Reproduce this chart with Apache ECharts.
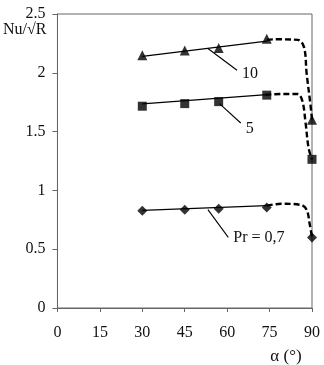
<!DOCTYPE html>
<html>
<head>
<meta charset="utf-8">
<script src="https://cdn.jsdelivr.net/npm/echarts@6/dist/echarts.min.js"></script>
<style>
  html, body { margin: 0; padding: 0; background: #fff; }
  #chart { width: 324px; height: 365px; }
</style>
</head>
<body>
<div id="chart"></div>
<script>
// Nu/sqrt(R) against inclination angle alpha, three Prandtl numbers.
const alphaTicks = [0, 15, 30, 45, 60, 75, 90];

// measured points
const alphaMeas = [30, 45, 57, 74, 90];
const nuPr10 = [2.15, 2.19, 2.21, 2.29, 1.60];
const nuPr5 = [1.716, 1.738, 1.755, 1.81, 1.264];
const nuPr07 = [0.828, 0.836, 0.844, 0.855, 0.60];

// straight fit lines (30..74 deg)
const fitAlpha = [30, 74];
const fit10 = [2.14, 2.27];
const fit5 = [1.735, 1.815];
const fit07 = [0.83, 0.87];

// dashed drop-off curves near 90 deg
const dashAlpha10 = [74, 77, 85, 87.2, 88.1, 89.5, 90];
const dash10 = [2.28, 2.285, 2.28, 2.216, 1.995, 1.72, 1.60];
const dashAlpha5 = [73.5, 79, 84.9, 86.6, 87.7, 88.8, 90];
const dash5 = [1.813, 1.82, 1.82, 1.76, 1.58, 1.36, 1.264];
const dashAlpha07 = [74, 79.1, 86, 88.1, 89.2, 90];
const dash07 = [0.87, 0.886, 0.877, 0.836, 0.712, 0.60];

// leader lines for the curve labels
const leaderNames = ["10", "5", "Pr = 0,7"];
const leaderAlpha = [[53.2, 63.5], [57.3, 64.8], [53.2, 60.4]];
const leaderNu = [[2.207, 2.022], [1.738, 1.573], [0.836, 0.60]];

const FONT = "'Liberation Serif', 'Times New Roman', serif";
const zip = (xs, ys) => xs.map((x, i) => [x, ys[i]]);

const markerSeries = (data, symbol, size) => ({
  type: "scatter",
  data: zip(alphaMeas, data),
  symbol,
  symbolSize: size,
  itemStyle: { color: "#000" },
  z: 5,
});
const fitSeries = (data) => ({
  type: "line",
  data: zip(fitAlpha, data),
  showSymbol: false,
  lineStyle: { color: "#000", width: 1.2 },
});
const dashSeries = (xs, ys) => ({
  type: "line",
  data: zip(xs, ys),
  smooth: 0.35,
  showSymbol: false,
  lineStyle: { color: "#000", width: 2.4, type: [6, 3] },
});
const labelOffsets = [[0, 4], [0, 6], [0, 0]];
const leaderSeries = leaderNames.map((name, i) => ({
  type: "line",
  data: [
    { value: [leaderAlpha[i][0], leaderNu[i][0]] },
    {
      value: [leaderAlpha[i][1], leaderNu[i][1]],
      label: {
        show: true,
        formatter: name,
        position: "right",
        distance: 5,
        offset: labelOffsets[i],
        color: "#111",
        fontFamily: FONT,
        fontSize: 16,
      },
    },
  ],
  symbol: "circle",
  symbolSize: 0.1,
  showSymbol: true,
  itemStyle: { color: "#000" },
  lineStyle: { color: "#000", width: 1.1 },
}));

const chart = echarts.init(document.getElementById("chart"), null, { renderer: "canvas" });
chart.setOption({
  animation: false,
  grid: {
    left: 50, right: 12, top: 14, bottom: 49,
    show: true, borderColor: "#666", borderWidth: 1,
  },
  xAxis: {
    type: "value",
    min: 0, max: 90, interval: 15,
    name: "α (°)",
    nameLocation: "end",
    nameGap: -26,
    nameTextStyle: {
      color: "#111", fontFamily: FONT, fontSize: 17,
      align: "center", verticalAlign: "top", padding: [40, 0, 0, 0],
    },
    axisLine: { lineStyle: { color: "#666", width: 1 } },
    axisTick: { show: true, length: 4, lineStyle: { color: "#666" } },
    axisLabel: {
      color: "#111", fontFamily: FONT, fontSize: 16, margin: 17,
      formatter: (v) => (alphaTicks.includes(v) ? String(v) : ""),
    },
    splitLine: { show: false },
  },
  yAxis: {
    type: "value",
    min: 0, max: 2.5, interval: 0.5,
    name: "Nu/√R",
    nameLocation: "end",
    nameGap: -16,
    nameTextStyle: {
      color: "#111", fontFamily: FONT, fontSize: 16,
      align: "right", verticalAlign: "middle", padding: [0, 11, 0, 0],
    },
    axisLine: { show: true, lineStyle: { color: "#666", width: 1 } },
    axisTick: { show: true, length: 5, lineStyle: { color: "#666" } },
    axisLabel: { color: "#111", fontFamily: FONT, fontSize: 16, margin: 12 },
    splitLine: { show: false },
  },
  series: [
    fitSeries(fit10),
    fitSeries(fit5),
    fitSeries(fit07),
    dashSeries(dashAlpha10, dash10),
    dashSeries(dashAlpha5, dash5),
    dashSeries(dashAlpha07, dash07),
    ...leaderSeries,
    markerSeries(nuPr10, "triangle", 10),
    markerSeries(nuPr5, "rect", 9),
    markerSeries(nuPr07, "diamond", 10),
  ],
});
</script>
</body>
</html>
